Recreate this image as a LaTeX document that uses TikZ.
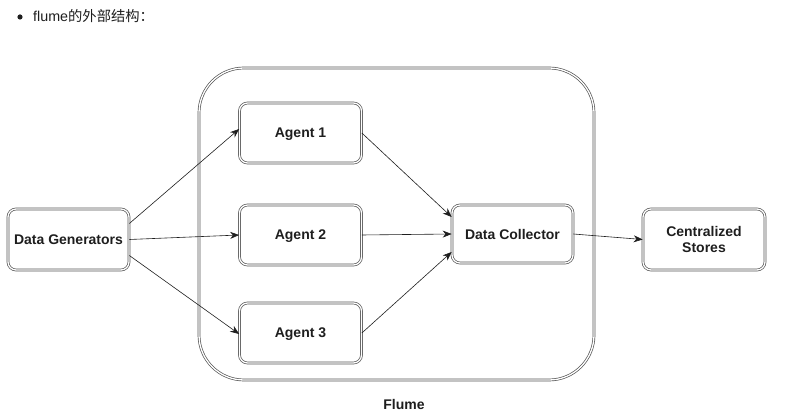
\documentclass[tikz,border=0pt]{standalone}
\usepackage{fontspec}
\setmainfont{Liberation Sans}
\newfontfamily\cjkfont{Noto Sans CJK SC}
\usetikzlibrary{arrows.meta}
\definecolor{edge}{RGB}{85,85,85}
\definecolor{ink}{RGB}{30,30,30}
\tikzset{
  box/.style={draw=edge, line width=0.7pt, double=white, double distance=1.3pt,
    rounded corners=8pt, align=center, font=\bfseries\fontsize{14}{16}\selectfont, text=ink,
    inner sep=0pt, text depth=0pt},
  conn/.style={draw=ink, line width=0.6pt, -{Stealth[length=9pt,width=7pt]}},
}
\begin{document}
\begin{tikzpicture}[x=1pt,y=-1pt]
\useasboundingbox (0,0) rectangle (801,419);
% header
\fill[ink] (20,17) circle (2.6pt);
\node[anchor=west, inner sep=0pt, text=ink, font=\fontsize{14.3}{16}\selectfont] (hdr) at (33,16) {flume\cjkfont 的外部结构：};
% Flume container
\draw[draw=edge, line width=0.7pt, double=white, double distance=1.3pt, rounded corners=45pt] (199,68) rectangle (594,380);
\node[font=\bfseries\fontsize{14}{16}\selectfont, text=ink] (flume) at (404,404) {Flume};
% nodes
\node[box, minimum width=121pt, minimum height=61pt] (dg) at (68.5,239.5) {Data Generators};
\node[box, minimum width=122pt, minimum height=60pt] (a1) at (300.5,133) {Agent 1};
\node[box, minimum width=122pt, minimum height=60pt] (a2) at (300.5,235) {Agent 2};
\node[box, minimum width=122pt, minimum height=60pt] (a3) at (300.5,333) {Agent 3};
\node[box, minimum width=121pt, minimum height=58pt] (dc) at (512.5,234) {Data Collector};
\node[box, minimum width=122pt, minimum height=61pt] (cs) at (704,239.5) {Centralized\\Stores};
% connectors
\draw[conn] ([yshift=16pt]dg.east) -- ([yshift=4pt]a1.west);
\draw[conn] (dg.east) -- (a2.west);
\draw[conn] ([yshift=-16pt]dg.east) -- ([yshift=-1pt]a3.west);
\draw[conn] (a1.east) -- ([yshift=17pt]dc.west);
\draw[conn] (a2.east) -- (dc.west);
\draw[conn] (a3.east) -- ([yshift=-18pt]dc.west);
\draw[conn] (dc.east) -- (cs.west);
\end{tikzpicture}
\end{document}
